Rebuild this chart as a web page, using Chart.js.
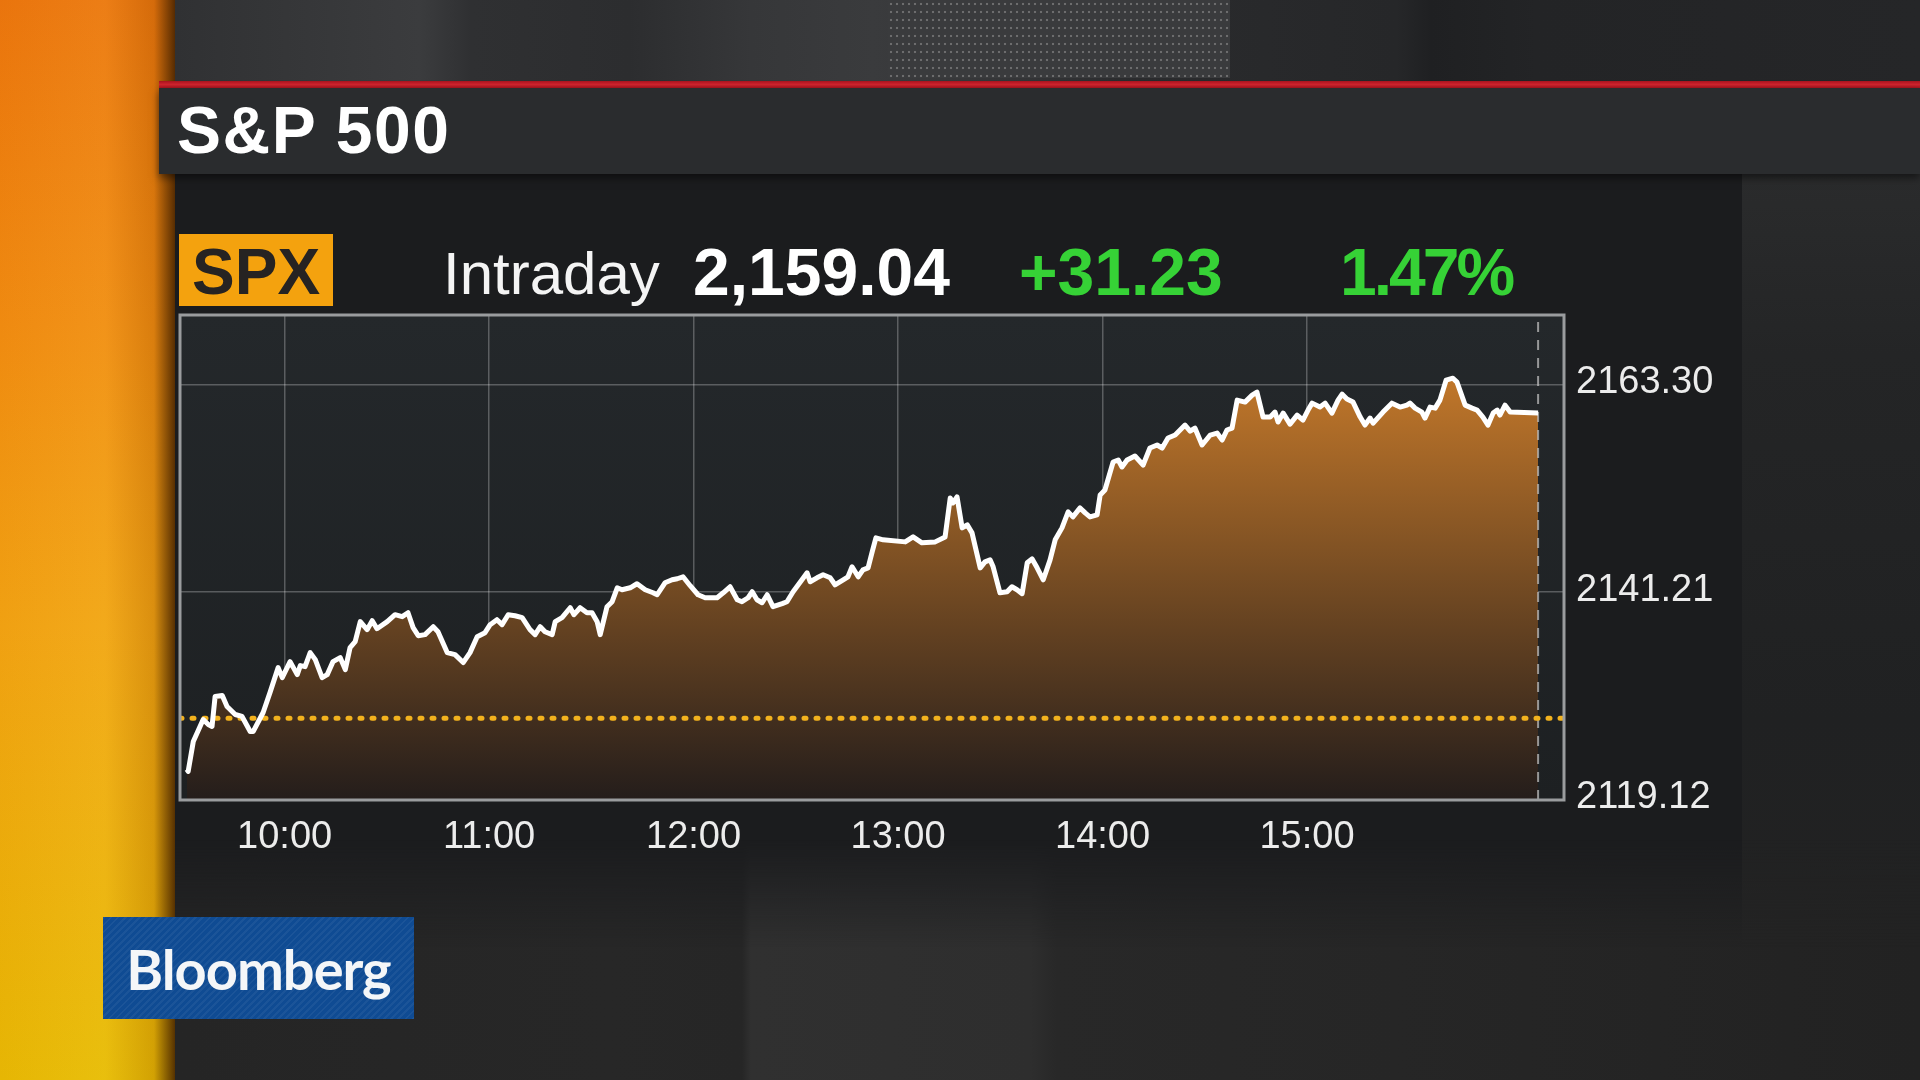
<!DOCTYPE html>
<html>
<head>
<meta charset="utf-8">
<script src="https://cdn.jsdelivr.net/npm/chart.js@4.4.0/dist/chart.umd.min.js"></script>
<style>
	body {
		margin: 0;
		width: 1920px;
		height: 1080px;
		overflow: hidden;
		background: #1c1d1f;
		position: relative;
		font-family: "Liberation Sans", Arial, sans-serif;
	}
	.strip {
		position: absolute; left: 0; top: 0; width: 175px; height: 1080px;
		background: linear-gradient(180deg, #ea740e 0%, #f08c12 30%, #f1a514 58%, #e6bd04 100%);
	}
	.strip::after {
		content: ""; position: absolute; inset: 0;
		background: linear-gradient(90deg, rgba(230,120,0,0.10) 0%, rgba(255,210,90,0.10) 60%, rgba(150,80,0,0.25) 88%, rgba(70,35,0,0.9) 100%);
	}
	.topband {
		position: absolute; left: 175px; top: 0; width: 1745px; height: 82px;
		background: linear-gradient(90deg, #303133 0%, #3b3c3e 14%, #2f3032 17%, #2c2d2f 26%, #363739 33%, #3a3b3d 40%, #343537 48%, #2a2b2d 55%, #262729 70%, #1f2022 72%, #232426 78%, #252628 100%);
	}
	.dots {
		position: absolute; left: 888px; top: 0; width: 342px; height: 78px;
		background-color: #3a3b3d;
		background-image: radial-gradient(circle, rgba(170,170,170,0.45) 1px, transparent 1.6px);
		background-size: 6px 8px;
	}
	.redline {
		position: absolute; left: 159px; top: 81px; width: 1761px; height: 7px;
		background: linear-gradient(180deg, #a8141f, #d0242e 50%, #a8141f);
	}
	.header {
		position: absolute; left: 159px; top: 88px; width: 1761px; height: 86px;
		background: #2a2c2e;
		box-shadow: 0 4px 8px rgba(0,0,0,0.5);
		z-index: 2;
	}
	.header span {
		position: absolute; left: 18px; top: 9px;
		color: #fff; font-weight: bold; font-size: 66px; line-height: 66px; letter-spacing: 1.5px;
	}
	.panel {
		position: absolute; left: 175px; top: 174px; width: 1567px; height: 906px;
		background: #1b1c1e;
	}
	.rightside {
		position: absolute; left: 1742px; top: 174px; width: 178px; height: 906px;
		background: linear-gradient(180deg, #2a2b2c 0%, #242526 20%, #202122 60%, #232323 100%);
	}
	.floor {
		position: absolute; left: 175px; top: 840px; width: 1745px; height: 240px;
		background: linear-gradient(90deg, #252525 0%, #272727 25%, #262626 32.5%, #303030 33%, #2e2e2e 49%, #282828 50.5%, #262626 70%, #222222 100%);
		-webkit-mask-image: linear-gradient(180deg, transparent 0%, black 45%);
		mask-image: linear-gradient(180deg, transparent 0%, black 45%);
	}
	.spx {
		position: absolute; left: 179px; top: 234px; width: 154px; height: 72px;
		background: #f4a20e;
	}
	.spx span {
		position: absolute; left: 13px; top: 6px;
		color: #262322; font-weight: bold; font-size: 64px; line-height: 64px;
	}
	.quote {
		position: absolute; white-space: nowrap;
	}
	.intraday { left: 443px; top: 244px; color: #f4f4f4; font-size: 60px; line-height: 60px; }
	.last { left: 693px; top: 239px; color: #fff; font-weight: bold; font-size: 66px; line-height: 66px; }
	.chg { left: 1019px; top: 239px; color: #36d236; font-weight: bold; font-size: 66px; line-height: 66px; }
	.pct { left: 1340px; top: 239px; color: #36d236; font-weight: bold; font-size: 66px; line-height: 66px; letter-spacing: -3px; }
	#spxChart {
		position: absolute; left: 170px; top: 300px;
	}
	.logo {
		position: absolute; left: 103px; top: 917px; width: 311px; height: 102px;
		background-color: #0f4b93;
		background-image: repeating-linear-gradient(135deg, rgba(255,255,255,0.05) 0 2px, transparent 2px 5px);
		display: flex; align-items: center; justify-content: center;
		color: #f4f6f8; font-family: Lato, "Open Sans", sans-serif; font-weight: bold; font-size: 56px; letter-spacing: -1px;
		z-index: 3;
	}
</style>
</head>
<body>
<div class="strip"></div>
<div class="topband"></div>
<div class="dots"></div>
<div class="redline"></div>
<div class="panel"></div>
<div class="rightside"></div>
<div class="floor"></div>
<div class="header"><span>S&amp;P 500</span></div>
<div class="spx"><span>SPX</span></div>
<div class="quote intraday">Intraday</div>
<div class="quote last">2,159.04</div>
<div class="quote chg">+31.23</div>
<div class="quote pct">1.47%</div>
<canvas id="spxChart" width="1570" height="580"></canvas>
<div class="logo">Bloomberg</div>

<script>
// minutes since midnight
const times = [
	571.3, 571.7, 573.2, 576.1, 577.6, 578.7, 579.6, 581.7, 583.1, 585.5,
	587.5, 589.9, 590.8, 593.7, 595.7, 598.1, 599.3, 601.6, 603.7, 604.6,
	606.0, 607.5, 609.0, 611.0, 612.5, 614.2, 616.3, 617.8, 619.2, 620.7,
	622.2, 624.2, 625.7, 627.1, 630.1, 632.4, 634.5, 636.2, 637.7, 639.2,
	641.2, 643.6, 645.0, 647.7, 650.0, 652.4, 654.4, 656.5, 658.8, 660.3,
	662.3, 663.8, 665.6, 667.6, 669.7, 672.0, 673.5, 675.0, 676.4, 678.5,
	679.4, 681.4, 683.8, 684.9, 686.7, 688.7, 690.2, 691.7, 692.6, 694.6,
	696.1, 697.6, 699.0, 701.4, 703.4, 705.8, 708.1, 709.3, 711.6, 713.7,
	715.2, 716.9, 719.0, 721.3, 723.4, 726.9, 728.7, 730.7, 732.8, 734.2,
	736.0, 737.2, 738.6, 740.1, 741.6, 743.3, 746.0, 747.4, 749.2, 751.8,
	753.3, 754.2, 756.2, 758.0, 760.1, 761.5, 763.9, 765.3, 766.5, 768.3,
	769.7, 771.2, 772.4, 773.5, 775.6, 782.1, 784.4, 787.0, 790.9, 793.8,
	795.3, 796.1, 797.3, 798.8, 800.3, 801.7, 804.1, 805.5, 807.0, 807.9,
	809.9, 812.0, 813.4, 814.9, 816.4, 817.9, 819.3, 820.8, 822.6, 824.6,
	826.1, 828.1, 829.9, 831.3, 833.4, 834.9, 836.3, 838.4, 839.3, 840.7,
	843.1, 844.6, 845.7, 847.2, 849.5, 851.9, 853.9, 856.0, 857.5, 859.2,
	861.3, 864.2, 865.7, 867.1, 869.2, 871.6, 873.6, 875.1, 876.5, 878.0,
	879.5, 881.8, 883.9, 885.3, 887.1, 889.2, 890.6, 891.5, 893.0, 895.0,
	897.1, 898.8, 900.3, 901.5, 903.8, 905.3, 907.3, 909.1, 910.3, 911.7,
	913.5, 915.6, 917.0, 918.5, 919.4, 922.3, 924.9, 927.3, 929.3, 930.2,
	931.7, 933.7, 934.6, 936.1, 937.6, 939.0, 940.8, 942.8, 944.0, 946.4,
	948.4, 949.9, 951.6, 953.1, 954.6, 955.8, 956.6, 958.1, 959.6, 967.8
]
const prices = [
	2122.37, 2122.16, 2125.34, 2127.68, 2127.15, 2126.94, 2130.12, 2130.22, 2129.06, 2128.21,
	2128.00, 2126.41, 2126.41, 2128.42, 2130.54, 2133.19, 2132.13, 2133.83, 2132.45, 2133.41,
	2133.30, 2134.79, 2134.04, 2132.13, 2132.45, 2133.83, 2134.26, 2132.98, 2135.32, 2135.95,
	2138.08, 2137.23, 2138.18, 2137.33, 2138.08, 2138.82, 2138.61, 2139.03, 2137.44, 2136.59,
	2136.70, 2137.54, 2137.01, 2134.79, 2134.57, 2133.73, 2134.79, 2136.48, 2136.91, 2137.76,
	2138.29, 2137.76, 2138.82, 2138.71, 2138.50, 2137.23, 2136.70, 2137.54, 2137.01, 2136.70,
	2138.08, 2138.50, 2139.56, 2138.82, 2139.56, 2139.03, 2139.03, 2138.08, 2136.70, 2139.67,
	2140.20, 2141.68, 2141.47, 2141.68, 2142.11, 2141.47, 2141.15, 2140.94, 2142.21, 2142.53,
	2142.64, 2142.85, 2141.90, 2140.94, 2140.62, 2140.62, 2141.15, 2141.79, 2140.41, 2140.20,
	2140.62, 2141.26, 2140.41, 2140.09, 2140.94, 2139.67, 2140.00, 2140.20, 2141.26, 2142.53,
	2143.27, 2142.32, 2142.74, 2143.06, 2142.74, 2142.00, 2142.53, 2142.85, 2143.91, 2142.85,
	2143.59, 2143.80, 2145.50, 2146.99, 2146.78, 2146.56, 2147.09, 2146.46, 2146.56, 2147.09,
	2151.23, 2150.70, 2151.34, 2148.05, 2148.37, 2147.52, 2143.80, 2144.44, 2144.65, 2143.91,
	2141.15, 2141.26, 2141.79, 2141.47, 2141.05, 2144.34, 2144.76, 2143.80, 2142.53, 2144.65,
	2146.78, 2148.05, 2149.75, 2149.22, 2150.17, 2149.64, 2149.22, 2149.43, 2151.55, 2152.08,
	2155.05, 2155.27, 2154.52, 2155.27, 2155.69, 2154.73, 2156.54, 2156.86, 2156.54, 2157.60,
	2157.92, 2158.98, 2158.34, 2158.66, 2156.86, 2157.92, 2158.13, 2157.39, 2158.45, 2158.66,
	2161.63, 2161.42, 2162.16, 2162.48, 2159.83, 2159.83, 2160.36, 2159.30, 2160.25, 2159.08,
	2160.04, 2159.51, 2160.57, 2161.31, 2160.89, 2161.31, 2160.25, 2161.63, 2162.27, 2161.74,
	2161.42, 2159.83, 2158.98, 2159.72, 2159.19, 2160.36, 2161.31, 2160.89, 2161.10, 2161.31,
	2160.78, 2160.36, 2159.72, 2160.89, 2160.78, 2161.63, 2163.75, 2163.96, 2163.54, 2161.10,
	2160.78, 2160.57, 2159.83, 2158.98, 2160.25, 2160.57, 2160.04, 2161.10, 2160.36, 2160.25
]
const prevClose = 2127.81
const hourTicks = [600, 660, 720, 780, 840, 900]
const hourLabels = ["10:00", "11:00", "12:00", "13:00", "14:00", "15:00"]
const priceTicks = [2119.12, 2141.21, 2163.30]
const xMin = 569.3
const xMax = 975.4
const yMin = 2119.12
const yMax = 2170.68

const lastTime = times[times.length - 1]
const tickFont = { family: '"Liberation Sans", Arial, sans-serif', size: 38 }
const gridStyle = { color: "rgba(255,255,255,0.26)", lineWidth: 1.5, drawTicks: false }

const plotFrame = {
	id: "plotFrame",
	beforeDraw(chart) {
		const { ctx, chartArea: a } = chart
		ctx.save()
		const g = ctx.createLinearGradient(0, a.top, 0, a.bottom)
		g.addColorStop(0, "#24282b")
		g.addColorStop(1, "#1d2022")
		ctx.fillStyle = g
		ctx.fillRect(a.left, a.top, a.width, a.height)
		ctx.restore()
	},
	afterDraw(chart) {
		const { ctx, chartArea: a } = chart
		ctx.save()
		ctx.strokeStyle = "#9a9c9e"
		ctx.lineWidth = 3
		ctx.strokeRect(a.left, a.top, a.width, a.height)
		ctx.restore()
	}
}

function fillGradient(context) {
	const a = context.chart.chartArea
	if (!a) return "rgba(0,0,0,0)"
	const g = context.chart.ctx.createLinearGradient(0, a.top, 0, a.bottom)
	g.addColorStop(0, "#d8842c")
	g.addColorStop(1, "#241d1b")
	return g
}

const ctx = document.getElementById("spxChart").getContext("2d")

new Chart(ctx, {
	type: "line",
	data: {
		datasets: [{
			label: "SPX",
			data: times.map((t, i) => ({ x: t, y: prices[i] })),
			borderColor: "#ffffff",
			borderWidth: 5,
			borderJoinStyle: "round",
			pointRadius: 0,
			tension: 0,
			fill: "start",
			backgroundColor: fillGradient,
			order: 0
		}, {
			label: "Previous close",
			data: [{ x: xMin, y: prevClose }, { x: xMax, y: prevClose }],
			borderColor: "#f2b21e",
			borderWidth: 5,
			borderDash: [2, 10],
			borderCapStyle: "round",
			pointRadius: 0,
			fill: false,
			order: 1
		}, {
			label: "Close",
			data: [{ x: lastTime, y: yMin }, { x: lastTime, y: yMax }],
			borderColor: "rgba(190,190,190,0.75)",
			borderWidth: 2,
			borderDash: [10, 8],
			pointRadius: 0,
			fill: false,
			order: 2
		}]
	},
	options: {
		responsive: false,
		animation: false,
		devicePixelRatio: 1,
		layout: { padding: { left: 10, top: 15, right: 0, bottom: 0 } },
		plugins: {
			legend: { display: false },
			tooltip: { enabled: false },
			filler: { drawTime: "beforeDatasetsDraw" }
		},
		scales: {
			x: {
				type: "linear",
				min: xMin,
				max: xMax,
				z: 1,
				afterBuildTicks: s => { s.ticks = hourTicks.map(v => ({ value: v })) },
				afterFit: s => { s.height = 80; s.paddingLeft = 0; s.paddingRight = 0 },
				grid: gridStyle,
				border: { display: false },
				ticks: {
					color: "#ececec",
					font: tickFont,
					padding: 15,
					maxRotation: 0,
					autoSkip: false,
					callback: v => hourLabels[hourTicks.indexOf(v)]
				}
			},
			y: {
				position: "right",
				min: yMin,
				max: yMax,
				z: 1,
				afterBuildTicks: s => { s.ticks = priceTicks.map(v => ({ value: v })) },
				afterFit: s => { s.width = 176; s.paddingTop = 0; s.paddingBottom = 0 },
				grid: gridStyle,
				border: { display: false },
				ticks: {
					color: "#ececec",
					font: tickFont,
					padding: 12,
					labelOffset: -2,
					callback: v => v.toFixed(2)
				}
			}
		}
	},
	plugins: [plotFrame]
})
</script>
</body>
</html>
